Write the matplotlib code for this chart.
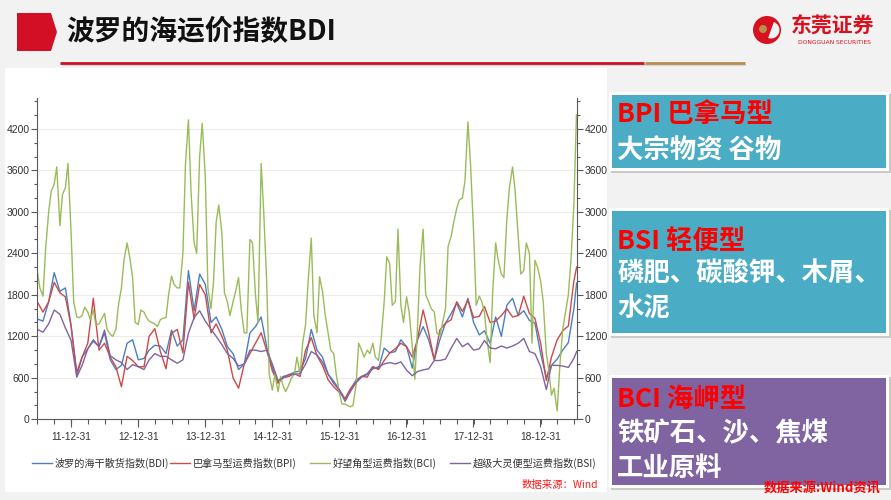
import matplotlib
matplotlib.use("Agg")
import matplotlib.pyplot as plt
import matplotlib.dates as mdates
from matplotlib.patches import Rectangle, Polygon, Circle, Wedge
from matplotlib.ticker import MultipleLocator, FixedLocator
import pandas as pd

plt.rcParams['font.family'] = ['Noto Sans CJK SC', 'DejaVu Sans']
TICK_FONT = ['Liberation Sans Narrow', 'Liberation Sans', 'DejaVu Sans']

# ---- data ----
# BCI is spiky, so half-monthly points; the others monthly
bci_dates = pd.date_range('2011-07-01', periods=194, freq='SMS')
month_dates = pd.date_range('2011-07-01', '2019-07-01', freq='MS').append(pd.DatetimeIndex(['2019-07-16']))

bci = [2140, 1900, 1780, 2450, 3000, 3300, 3400, 3650, 2800, 3250, 3350, 3700, 2700, 1700, 1480, 1470,
       1500, 1620, 1550, 1440, 1580, 1360, 1380, 1450, 1530, 1300, 1230, 1200, 1300, 1650, 1900, 2300,
       2550, 2350, 2050, 1400, 1370, 1580, 1550, 1470, 1420, 1400, 1380, 1340, 1440, 1460, 1470, 1800,
       2070, 1950, 1900, 1900, 2400, 3700, 4330, 3300, 2550, 2400, 3800, 4280, 3500, 1900, 1600, 2000,
       2850, 3100, 2700, 1830, 1700, 1500, 1700, 1850, 2050, 1600, 1250, 1250, 2600, 2550, 1800, 1400,
       3700, 3000, 2000, 650, 420, 650, 400, 620, 480, 400, 500, 600, 650, 900, 650, 1100,
       1370, 2000, 2620, 1500, 1250, 2060, 1850, 1530, 1240, 1000, 950, 650, 380, 220, 220, 200,
       180, 200, 500, 1100, 1000, 900, 1000, 950, 1100, 900, 850, 1150, 1700, 2350, 2250, 1650,
       1700, 2750, 1650, 1400, 1770, 1550, 1050, 580, 1300, 2200, 2750, 1800, 1700, 1600, 1550, 1250,
       1200, 1380, 1600, 2500, 2650, 2850, 3050, 3170, 3200, 3450, 4300, 3700, 2700, 1650, 1780, 1700,
       1550, 1150, 820, 1850, 2550, 2300, 2100, 2050, 2900, 3350, 3650, 3300, 2650, 2100, 2150, 2550,
       2400, 1100, 2300, 2200, 2000, 1700, 950, 700, 350, 450, 120, 750, 1300, 1530, 1800, 2300,
       3100, 4400]

bdi = [1450, 1420, 1700, 2120, 1850, 1900, 1350, 630, 900, 1020, 1130, 1050, 1250, 860, 720, 780,
       1100, 1150, 860, 880, 1000, 1070, 1060, 950, 1290, 1060, 1150, 2150, 1570, 2100, 1950, 1400,
       1480, 1300, 1050, 950, 720, 800, 1250, 1340, 1480, 1050, 750, 540, 620, 640, 680, 700,
       880, 1300, 1000, 900, 650, 550, 430, 290, 430, 570, 620, 660, 760, 730, 1030, 960,
       980, 1150, 1050, 740, 1150, 1340, 1150, 860, 1150, 1390, 1530, 1680, 1480, 1750, 1400, 1220,
       1280, 1100, 1480, 1200, 1650, 1750, 1500, 1570, 1430, 1390, 950, 600, 780, 870, 1000, 1110,
       1600, 1970]

bpi = [1700, 1550, 1700, 1980, 1830, 1770, 1350, 680, 900, 1100, 1750, 1000, 1100, 900, 760, 470,
       910, 850, 760, 760, 1200, 1310, 980, 730, 1245, 1300, 960, 1980, 1450, 1950, 1800, 1250,
       1380, 1200, 1000, 600, 450, 800, 950, 1100, 1250, 1000, 700, 520, 600, 620, 660, 620,
       1000, 1180, 920, 780, 570, 470, 390, 300, 440, 540, 620, 610, 760, 720, 850, 960,
       1020, 1100, 1050, 900, 1150, 1580, 1250, 860, 1290, 1390, 1440, 1700, 1560, 1720, 1470, 1490,
       1630, 1400, 1420, 1500, 1600, 1480, 1500, 1780, 1530, 1460, 1100, 560, 900, 1150, 1280, 1350,
       2000, 2200]

bsi = [1300, 1260, 1380, 1580, 1520, 1320, 1140, 610, 780, 1020, 1150, 1050, 1290, 920, 860, 820,
       720, 790, 760, 720, 860, 950, 910, 910, 860, 810, 860, 1245, 1470, 1570, 1420, 1300,
       1200, 1080, 950, 880, 770, 800, 1000, 1000, 980, 1000, 800, 560, 600, 650, 650, 660,
       800, 980, 930, 830, 650, 520, 420, 260, 400, 530, 610, 650, 730, 760, 800, 820,
       800, 830, 710, 630, 690, 715, 730, 850, 850, 870, 1030, 1170, 1050, 1100, 1000, 1020,
       1140, 1030, 1020, 1060, 1030, 1060, 1100, 1170, 980, 950, 760, 430, 780, 780, 770, 750,
       880, 980]

tick_dates = pd.to_datetime(['2011-12-31', '2012-12-31', '2013-12-31', '2014-12-31',
                             '2015-12-31', '2016-12-31', '2017-12-31', '2018-12-31'])

series = [
    ('波罗的海干散货指数(BDI)', month_dates, bdi, '#4a7fc1'),
    ('巴拿马型运费指数(BPI)', month_dates, bpi, '#cc4a48'),
    ('好望角型运费指数(BCI)', bci_dates, bci, '#9bbb59'),
    ('超级大灵便型运费指数(BSI)', month_dates, bsi, '#8064a2'),
]

W, H = 891, 500
fig = plt.figure(figsize=(W / 100, H / 100), dpi=100)
fig.patch.set_facecolor('#f2f2f2')

# slide decorations in pixel coordinates
bg = fig.add_axes([0, 0, 1, 1], zorder=-10)
bg.set_xlim(0, W)
bg.set_ylim(H, 0)
bg.axis('off')

bg.add_patch(Polygon([(17, 13), (51, 13), (57, 32), (51, 51), (17, 51)], closed=True,
                     facecolor='#d20f24', edgecolor='none'))
bg.text(66, 32, '波罗的海运价指数BDI', fontsize=20, fontweight='bold', color='#111111',
        ha='left', va='center')
bg.plot([62, 746], [65, 65], color='#d5d5d5', lw=1.5, solid_capstyle='butt')
bg.plot([60, 644], [62.5, 62.5], color='#cc1126', lw=2.0, solid_capstyle='butt')
bg.plot([645, 745], [62.5, 62.5], color='#b98f4e', lw=2.0, solid_capstyle='butt')

# logo
bg.add_patch(Circle((767, 30), 14, facecolor='#d7111f', edgecolor='none'))
bg.add_patch(Wedge((771, 30), 8.5, -70, 110, facecolor='#f2f2f2', edgecolor='none'))
bg.add_patch(Circle((763, 29), 4, facecolor='#b98f4e', edgecolor='none'))
bg.text(833, 26, '东莞证券', fontsize=15, fontweight='bold', color='#d7111f', ha='center', va='center')
bg.text(834, 42, 'DONGGUAN SECURITIES', fontsize=4.3, color='#d7111f', ha='center', va='center',
        family='DejaVu Sans')

# chart panel
bg.add_patch(Rectangle((5, 68), 602, 424, facecolor='white', edgecolor='none'))
bg.text(598, 485, '数据来源：Wind', fontsize=7.5, color='#ff1a1a', ha='right', va='center',
        style='italic')

# right side boxes
boxes = [(92, 171, '#4bacc6'), (208, 336, '#4bacc6'), (375, 488, '#8064a2')]
for y0, y1, col in boxes:
    bg.add_patch(Rectangle((611, y0 + 2), 280, y1 - y0, facecolor='#c9c9c9', edgecolor='none'))
    bg.add_patch(Rectangle((609, y0), 280, y1 - y0, facecolor='white', edgecolor='none'))
    bg.add_patch(Rectangle((612, y0 + 3), 274, y1 - y0 - 6, facecolor=col, edgecolor='none'))

box_lines = [
    ('BPI 巴拿马型', 114, '#ff0000'), ('大宗物资 谷物', 151, 'white'),
    ('BSI 轻便型', 241, '#ff0000'), ('磷肥、碳酸钾、木屑、', 274, 'white'), ('水泥', 308, 'white'),
    ('BCI 海岬型', 399, '#ff0000'), ('铁矿石、沙、焦煤', 434, 'white'), ('工业原料', 468, 'white'),
]
for txt, y, col in box_lines:
    bg.text(617, y, txt, fontsize=19, fontweight='bold', color=col, ha='left', va='center')

bg.text(881, 488, '数据来源:Wind资讯', fontsize=9.5, fontweight='bold', color='#ff0000',
        ha='right', va='center')

# ---- chart ----
x0, x1, ytop, ybot = 37.3, 577.0, 98.0, 419.3
ax = fig.add_axes([x0 / W, 1 - ybot / H, (x1 - x0) / W, (ybot - ytop) / H])
ax.set_facecolor('white')

lines = []
for label, d, v, col in series:
    ln, = ax.plot(d, v, color=col, lw=1.0, label=label)
    lines.append(ln)

ax.set_xlim(pd.Timestamp('2011-07-01'), pd.Timestamp('2019-07-18'))
ax.set_ylim(0, 4646)
ax.yaxis.set_major_locator(MultipleLocator(600))
ax.yaxis.set_minor_locator(MultipleLocator(200))
ax.xaxis.set_major_locator(FixedLocator(mdates.date2num(tick_dates)))
ax.xaxis.set_major_formatter(mdates.DateFormatter('%y-%m-%d'))
ax.xaxis.set_minor_locator(mdates.MonthLocator(bymonth=[1, 4, 7, 10]))

ax.grid(axis='y', which='major', color='#ececec', lw=0.8)
ax.set_axisbelow(True)
ax.spines['top'].set_visible(False)
for s in ('left', 'right', 'bottom'):
    ax.spines[s].set_color('#595959')
    ax.spines[s].set_linewidth(0.8)

ax.tick_params(axis='y', which='both', direction='out', left=True, right=True,
               labelleft=True, labelright=True, colors='#595959', labelcolor='#333333',
               labelsize=7.5, width=0.8, pad=1.5)
ax.tick_params(axis='y', which='major', length=4)
ax.tick_params(axis='y', which='minor', length=2.5)
ax.tick_params(axis='x', which='both', direction='out', colors='#595959', labelcolor='#333333',
               labelsize=7.3, width=0.8, pad=3)
ax.tick_params(axis='x', which='major', length=6)
ax.tick_params(axis='x', which='minor', length=3.5)

for lab in ax.xaxis.get_majorticklabels() + ax.yaxis.get_majorticklabels():
    lab.set_fontfamily(TICK_FONT)

# legend, one entry at a time to keep the original spacing
leg_x = [32, 170, 310, 450]
for ln, lx in zip(lines, leg_x):
    lg = fig.legend(handles=[ln], loc='center left', bbox_to_anchor=(lx / W, 1 - 463 / H),
                    frameon=False, fontsize=7.3, handlelength=2.0, handletextpad=0.25,
                    borderpad=0, borderaxespad=0)
    for t in lg.get_texts():
        t.set_color('#333333')

fig.savefig('out.png', dpi=100, facecolor=fig.get_facecolor())
